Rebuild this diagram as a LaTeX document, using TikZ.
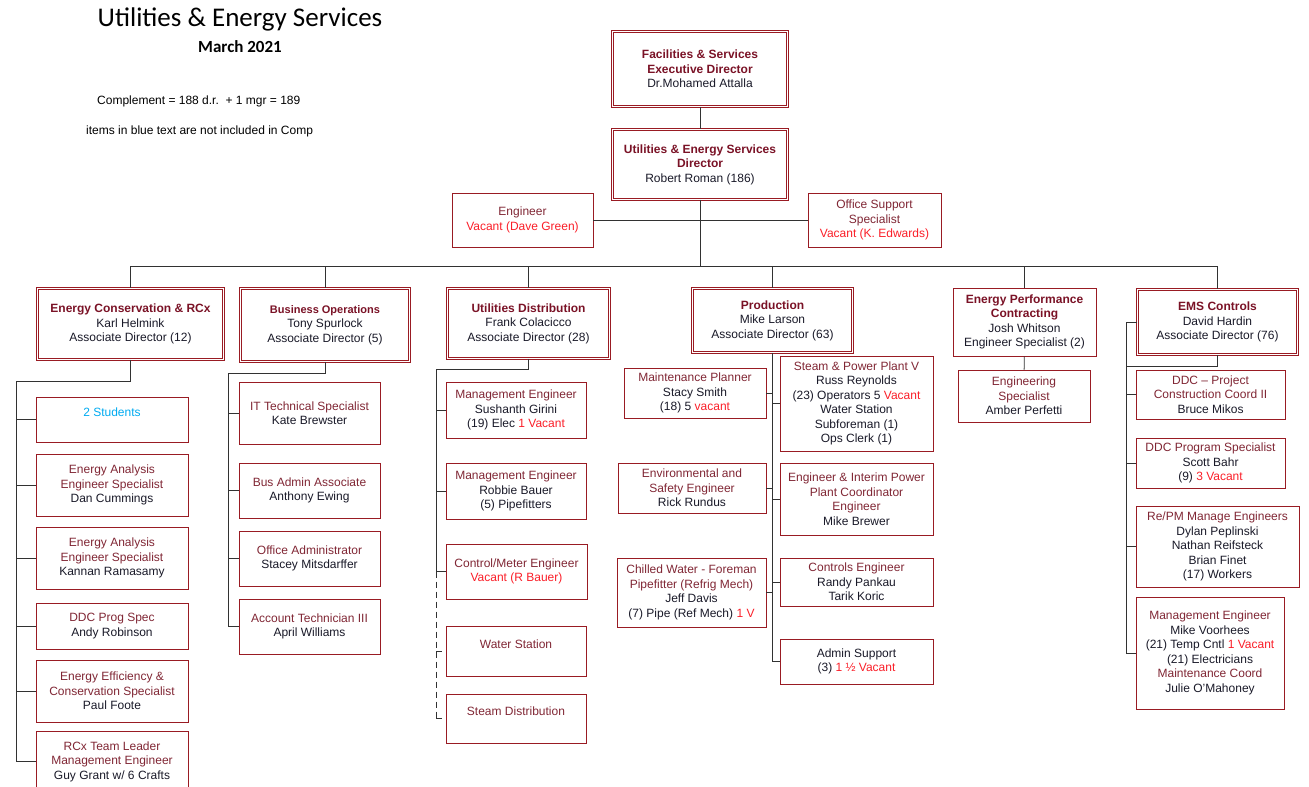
\documentclass[tikz,border=0pt]{standalone}
\usepackage{fontspec}
\setmainfont{Liberation Sans}
\newfontfamily\titlefont{Carlito}
\definecolor{boxred}{RGB}{153,27,35}
\definecolor{headred}{RGB}{122,18,38}
\definecolor{rolered}{RGB}{128,38,52}
\definecolor{vacred}{RGB}{250,30,40}
\definecolor{studblue}{RGB}{0,170,240}
\definecolor{namecol}{RGB}{25,25,40}
\definecolor{linecol}{RGB}{50,50,50}
\newcommand{\hdtxt}[1]{\textcolor{headred}{\textbf{#1}}}
\newcommand{\roletxt}[1]{\textcolor{rolered}{#1}}
\newcommand{\vactxt}[1]{\textcolor{vacred}{#1}}
\tikzstyle{unit}=[draw=boxred,line width=0.9pt,text=namecol,align=center,inner sep=0pt,font=\fontsize{12}{14.5}\selectfont]
\tikzstyle{dept}=[unit,double=white,double distance=1.4pt]
\tikzstyle{edge} = [draw=linecol,line width=0.9pt]
\tikzstyle{dashedge} = [edge,dash pattern=on 6pt off 4pt]
\begin{document}
\begin{tikzpicture}[x=1pt,y=-1pt]
    \useasboundingbox (0,0) rectangle (1309,787);
    % Title and notes
    \node[anchor=base,font=\titlefont\fontsize{27}{30}\selectfont] (title) at (240,27) {Utilities \& Energy Services};
    \node[anchor=base,font=\titlefont\bfseries\fontsize{17}{20}\selectfont] (date) at (240,52) {March 2021};
    \node[anchor=base west,inner sep=0pt,font=\fontsize{12}{14}\selectfont] (comp) at (97,104) {Complement = 188 d.r.\ \ + 1 mgr = 189};
    \node[anchor=base west,inner sep=0pt,font=\fontsize{12}{14}\selectfont] (note) at (86,134) {items in blue text are not included in Comp};

    % First we draw the top of the chart
    \node[dept,minimum width=175pt,minimum height=75pt] (fac) at (700,69) {\hdtxt{Facilities \& Services}\\\hdtxt{Executive Director}\\Dr.Mohamed Attalla};
    \node[dept,minimum width=175pt,minimum height=70pt] (dir) at (700,164.5) {\hdtxt{Utilities \& Energy Services}\\\hdtxt{Director}\\Robert Roman (186)};
    \node[unit,minimum width=141pt,minimum height=54pt] (eng) at (522.5,220) {\roletxt{Engineer}\\\vactxt{Vacant (Dave Green)}};
    \node[unit,minimum width=133pt,minimum height=54pt] (ofs) at (874.5,220) {\roletxt{Office Support}\\\roletxt{Specialist}\\\vactxt{Vacant (K. Edwards)}};

    % The six units
    \node[dept,minimum width=186pt,minimum height=71pt] (ecr) at (130.5,324) {\hdtxt{Energy Conservation \& RCx}\\Karl Helmink\\Associate Director (12)};
    \node[dept,minimum width=169pt,minimum height=73pt] (bop) at (325,325) {{\fontsize{11}{14.5}\selectfont\hdtxt{Business Operations}}\\Tony Spurlock\\Associate Director (5)};
    \node[dept,minimum width=162pt,minimum height=70pt] (udi) at (528.5,323.5) {\hdtxt{Utilities Distribution}\\Frank Colacicco\\Associate Director (28)};
    \node[dept,minimum width=160pt,minimum height=64pt] (prd) at (772.5,320.5) {\hdtxt{Production}\\Mike Larson\\Associate Director (63)};
    \node[unit,minimum width=143pt,minimum height=68pt] (epc) at (1024.5,322) {\hdtxt{Energy Performance}\\\hdtxt{Contracting}\\Josh Whitson\\Engineer Specialist (2)};
    \node[dept,minimum width=160pt,minimum height=65pt] (ems) at (1217.5,322) {\hdtxt{EMS Controls}\\David Hardin\\Associate Director (76)};

    % Energy Conservation staff
    \node[unit,minimum width=152pt,minimum height=45pt] (stu) at (112,419.5) {\textcolor{studblue}{2 Students}\\\mbox{}};
    \node[unit,minimum width=152pt,minimum height=62pt] (ea1) at (112,485) {\roletxt{Energy Analysis}\\\roletxt{Engineer Specialist}\\Dan Cummings};
    \node[unit,minimum width=152pt,minimum height=62pt] (ea2) at (112,558) {\roletxt{Energy Analysis}\\\roletxt{Engineer Specialist}\\Kannan Ramasamy};
    \node[unit,minimum width=152pt,minimum height=46pt] (ddc) at (112,626) {\roletxt{DDC Prog Spec}\\Andy Robinson};
    \node[unit,minimum width=152pt,minimum height=62pt] (eec) at (112,691) {\roletxt{Energy Efficiency \&}\\\roletxt{Conservation Specialist}\\Paul Foote};
    \node[unit,minimum width=152pt,minimum height=61pt] (rcx) at (112,761.5) {\roletxt{RCx Team Leader}\\\roletxt{Management Engineer}\\Guy Grant w/ 6 Crafts};

    % Business Operations staff
    \node[unit,minimum width=141pt,minimum height=62pt] (its) at (309.5,413) {\roletxt{IT Technical Specialist}\\Kate Brewster};
    \node[unit,minimum width=141pt,minimum height=55pt] (baa) at (309.5,490.5) {\roletxt{Bus Admin Associate}\\Anthony Ewing};
    \node[unit,minimum width=141pt,minimum height=55pt] (ofa) at (309.5,558.5) {\roletxt{Office Administrator}\\Stacey Mitsdarffer};
    \node[unit,minimum width=141pt,minimum height=55pt] (act) at (309.5,626.5) {\roletxt{Account Technician III}\\April Williams};

    % Utilities Distribution staff
    \node[unit,minimum width=140pt,minimum height=56pt] (me1) at (516,410) {\roletxt{Management Engineer}\\Sushanth Girini\\(19) Elec \vactxt{1 Vacant}};
    \node[unit,minimum width=140pt,minimum height=56pt] (me2) at (516,491) {\roletxt{Management Engineer}\\Robbie Bauer\\(5) Pipefitters};
    \node[unit,minimum width=141pt,minimum height=55pt] (cme) at (516.5,571.5) {\roletxt{Control/Meter Engineer}\\\vactxt{Vacant (R Bauer)}};
    \node[unit,minimum width=140pt,minimum height=50pt] (wst) at (516,651) {\roletxt{Water Station}\\\mbox{}};
    \node[unit,minimum width=140pt,minimum height=49pt] (sdi) at (516,718.5) {\roletxt{Steam Distribution}\\\mbox{}};

    % Production staff
    \node[unit,minimum width=142pt,minimum height=50pt] (mpl) at (695,393) {\roletxt{Maintenance Planner}\\Stacy Smith\\(18) 5 \vactxt{vacant}};
    \node[unit,minimum width=148pt,minimum height=50pt] (ese) at (692,488) {\roletxt{Environmental and}\\\roletxt{Safety Engineer}\\Rick Rundus};
    \node[unit,minimum width=149pt,minimum height=69pt] (chw) at (691.5,592.5) {\roletxt{Chilled Water - Foreman}\\\roletxt{Pipefitter (Refrig Mech)}\\Jeff Davis\\(7) Pipe (Ref Mech) \vactxt{1 V}};
    \node[unit,minimum width=153pt,minimum height=95pt] (spp) at (856.5,403.5) {\roletxt{Steam \& Power Plant V}\\Russ Reynolds\\(23) Operators 5 \vactxt{Vacant}\\Water Station\\Subforeman (1)\\Ops Clerk (1)};
    \node[unit,minimum width=153pt,minimum height=72pt] (eip) at (856.5,499) {\roletxt{Engineer \& Interim Power}\\\roletxt{Plant Coordinator}\\\roletxt{Engineer}\\Mike Brewer};
    \node[unit,minimum width=153pt,minimum height=48pt] (cte) at (856.5,582) {\roletxt{Controls Engineer}\\Randy Pankau\\Tarik Koric};
    \node[unit,minimum width=153pt,minimum height=45pt] (ads) at (856.5,661.5) {Admin Support\\(3) \vactxt{1 ½ Vacant}};

    % Energy Performance Contracting staff
    \node[unit,minimum width=132pt,minimum height=52pt] (esp) at (1024,396) {\roletxt{Engineering}\\\roletxt{Specialist}\\Amber Perfetti};

    % EMS Controls staff
    \node[unit,minimum width=149pt,minimum height=49pt] (ddp) at (1210.5,394.5) {\roletxt{DDC – Project}\\\roletxt{Construction Coord II}\\Bruce Mikos};
    \node[unit,minimum width=149pt,minimum height=50pt] (dps) at (1210.5,463) {\roletxt{DDC Program Specialist}\\Scott Bahr\\(9) \vactxt{3 Vacant}};
    \node[unit,minimum width=163pt,minimum height=81pt] (rpm) at (1217.5,546.5) {\roletxt{Re/PM Manage Engineers}\\Dylan Peplinski\\Nathan Reifsteck\\Brian Finet\\(17) Workers};
    \node[unit,minimum width=148pt,minimum height=112pt] (mme) at (1210,653) {\roletxt{Management Engineer}\\Mike Voorhees\\(21) Temp Cntl \vactxt{1 Vacant}\\(21) Electricians\\\roletxt{Maintenance Coord}\\Julie O’Mahoney};

    % Trunk points
    \coordinate (bus) at (700,266);
    \coordinate (ecr-t) at (16,381);
    \coordinate (bop-t) at (228,373);
    \coordinate (udi-t) at (436,369);
    \coordinate (ems-t) at (1126,322);
    \coordinate (ems-b) at (1126,366);

    % Connect boxes with lines
    \path[edge] (fac) -- (dir);
    \path[edge] (eng) -- (ofs);
    \path[edge] (dir.south) -- (bus);
    \path[edge] (ecr.north |- bus) -- (ems.north |- bus);
    \foreach \dest in {ecr,bop,udi,prd,epc,ems}
        \path[edge] (\dest.north |- bus) -- (\dest.north);

    \path[edge] (ecr.south) |- (ecr-t) -- (ecr-t |- rcx.west);
    \foreach \dest in {stu,ea1,ea2,ddc,eec,rcx}
        \path[edge] (ecr-t |- \dest.west) -- (\dest.west);

    \path[edge] (bop.south) |- (bop-t) -- (bop-t |- act.west);
    \foreach \dest in {its,baa,ofa,act}
        \path[edge] (bop-t |- \dest.west) -- (\dest.west);

    \path[edge] (udi.south) |- (udi-t) -- (udi-t |- cme.west);
    \path[dashedge] (udi-t |- cme.west) -- (udi-t |- sdi.west);
    \foreach \dest in {me1,me2,cme}
        \path[edge] (udi-t |- \dest.west) -- (\dest.west);
    \foreach \dest in {wst,sdi}
        \path[dashedge] (udi-t |- \dest.west) -- (\dest.west);

    \path[edge] (prd.south) -- (prd.south |- ads.west);
    \foreach \source in {mpl,ese,chw}
        \path[edge] (\source.east) -- (\source.east -| prd.south);
    \foreach \dest in {spp,eip,cte,ads}
        \path[edge] (prd.south |- \dest.west) -- (\dest.west);

    \path[edge] (epc) -- (esp);

    \path[edge] (ems.west) -- (ems-t) -- (ems-t |- mme.west);
    \path[edge] (ems.south) |- (ems-b);
    \foreach \dest in {ddp,dps,rpm,mme}
        \path[edge] (ems-t |- \dest.west) -- (\dest.west);
\end{tikzpicture}
\end{document}
